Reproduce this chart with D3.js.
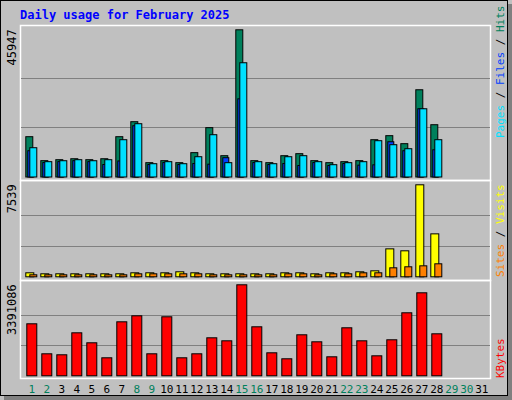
<!DOCTYPE html><html><head><meta charset="utf-8"><script src="https://cdn.jsdelivr.net/npm/d3@7"></script>
<style>body{margin:0;background:#fff}</style></head><body><svg id="c" width="512" height="400"></svg>
<script>
const days=d3.range(1,32);
const weekend=[1,2,8,9,15,16,22,23,29,30];
const hits=[12580,5100,5400,5700,5400,5700,12580,17260,4470,5100,4470,7600,15400,6650,45947,5100,4470,6650,7280,5100,4470,4780,5100,11640,12900,10400,27230,16320];
const files=[8200,4500,4800,5100,4800,3900,5000,16000,3900,4500,3900,4200,4000,6020,24400,4500,3900,4200,3600,4500,3600,4200,3700,3800,11000,8200,21300,8500];
const pages=[9140,4780,5080,5400,5080,5400,11640,16630,4150,4780,4150,6330,13200,4470,35660,4780,4150,6330,6650,4780,3840,4470,4780,11330,10080,8830,21300,11640];
const visits=[328,246,246,246,246,246,246,328,328,328,410,328,246,246,246,246,246,328,328,246,328,328,410,490,2290,2130,7539,3520];
const sites=[164,164,164,164,164,164,164,246,246,246,246,246,164,164,164,164,164,246,246,164,246,246,328,328,737,820,900,1065];
const kbytes=[1938000,820000,783000,1602000,1230000,671000,2012000,2236000,820000,2199000,671000,820000,1416000,1304000,3391086,1826000,857000,634000,1528000,1267000,708000,1789000,1304000,745000,1342000,2348000,3093000,1565000];
const maxLabels=["45947","7539","3391086"];

const svg=d3.select("#c");
const F="DejaVu Sans Mono, monospace";
svg.append("rect").attr("width",512).attr("height",400).attr("fill","#c0c0c0");
svg.append("rect").attr("x",0.5).attr("y",0.5).attr("width",507).attr("height",395).attr("fill","none").attr("stroke","#000");
svg.append("rect").attr("x",508).attr("y",4).attr("width",4).attr("height",396).attr("fill","#808080");
svg.append("rect").attr("x",4).attr("y",396).attr("width",508).attr("height",4).attr("fill","#808080");
svg.append("text").attr("x",20).attr("y",19).attr("font-family",F).attr("font-weight","bold").attr("font-size",12).attr("fill","#0000ff").text("Daily usage for February 2025");

const x=d3.scaleLinear().domain([1,31]).range([25.3,475.3]);
const panels=[{t:25,b:176.5,top:29.3,max:45947},{t:180,b:276.3,top:184.3,max:7539},{t:280,b:375.3,top:284.3,max:3391086}];
panels.forEach((p,i)=>{
  const bot=i==2?378:p.t+ (i==0?155:100);
  svg.append("rect").attr("x",20.5).attr("y",p.t+0.5).attr("width",470).attr("height",bot-p.t).attr("fill","none").attr("stroke","#fff").attr("stroke-width",1.5);
  p.y=d3.scaleLinear().domain([0,p.max]).range([p.b,p.top]);
  [1,2].forEach(k=>{const yy=Math.round(p.b-(p.b-p.top)*k/3)+0.5;
    svg.append("line").attr("x1",21).attr("x2",490).attr("y1",yy).attr("y2",yy).attr("stroke","#808080");});
  svg.append("text").attr("transform",`translate(16,${p.top+ (i==2?0:0)}) rotate(-90)`).attr("text-anchor","end").attr("font-family",F).attr("font-size",12).attr("fill","#000").text(maxLabels[i]);
});
function bars(data,p,off,w,col){
  svg.append("g").selectAll("rect").data(data).join("rect")
   .attr("x",(d,i)=>x(i+1)+off+0.5).attr("width",w).attr("y",d=>p.y(d)+0.5).attr("height",d=>Math.max(0,p.b-p.y(d)))
   .attr("fill",col).attr("stroke","#000");
}
bars(hits,panels[0],0,7,"#00805c");
bars(files,panels[0],2,6,"#0040ff");
bars(pages,panels[0],4,7,"#00e0ff");
bars(visits,panels[1],0,8,"#ffff00");
bars(sites,panels[1],4,7,"#ff8000");
bars(kbytes,panels[2],1,10,"#ff0000");

svg.append("g").selectAll("text").data(days).join("text").attr("x",d=>x(d)+6.5).attr("y",393).attr("text-anchor","middle")
 .attr("font-family",F).attr("font-size",11).attr("fill",d=>weekend.includes(d)?"#00805c":"#000").text(d=>d);

function rlabel(parts,yEnd){
  const t=svg.append("text").attr("transform",`translate(497,${yEnd}) rotate(90)`).attr("text-anchor","end").attr("font-family",F).attr("font-size",11);
  parts.forEach(([s,c])=>t.append("tspan").attr("fill",c).text(s));
}
rlabel([["Hits","#00805c"],[" / ","#000"],["Files","#0040ff"],[" / ","#000"],["Pages","#00e0ff"]].reverse(),28);
function rl(parts,yTop){const t=svg.append("text").attr("transform",`translate(499,${yTop}) rotate(90)`).attr("font-family",F).attr("font-size",11);
  parts.forEach(([s,c])=>t.append("tspan").attr("fill",c).text(s));}
svg.selectAll("text").filter(function(){return d3.select(this).attr("transform")&&d3.select(this).attr("transform").startsWith("translate(497")}).remove();
// vertical labels read top->bottom reversed: draw rotated -90 at right
function vl(parts,yBottom){const t=svg.append("text").attr("transform",`translate(504,${yBottom}) rotate(-90)`).attr("font-family",F).attr("font-size",11);
  parts.forEach(([s,c])=>t.append("tspan").attr("fill",c).text(s));}
vl([["Pages","#00e0ff"],[" / ","#000"],["Files","#0040ff"],[" / ","#000"],["Hits","#00805c"]],138);
vl([["Sites","#ff8000"],[" / ","#000"],["Visits","#ffff00"]],277);
vl([["KBytes","#ff0000"]],378);
</script></body></html>
